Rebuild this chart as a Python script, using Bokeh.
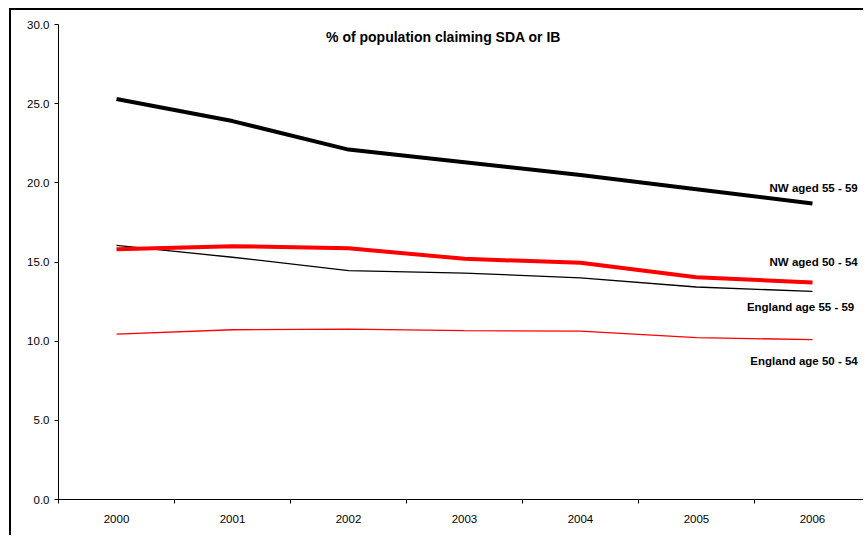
from bokeh.plotting import figure
from bokeh.models import FixedTicker, Range1d
from bokeh.core.properties import value
from bokeh.embed import file_html
from bokeh.resources import INLINE

# ---- data ----
years = ["2000", "2001", "2002", "2003", "2004", "2005", "2006"]
nw_55_59 = [25.3, 23.9, 22.1, 21.3, 20.5, 19.6, 18.7]
nw_50_54 = [15.8, 16.0, 15.87, 15.2, 14.95, 14.04, 13.7]
eng_55_59 = [16.05, 15.3, 14.46, 14.3, 14.0, 13.42, 13.14]
eng_50_54 = [10.45, 10.72, 10.76, 10.67, 10.63, 10.22, 10.1]
y_ticks = [0, 5, 10, 15, 20, 25, 30]
series_names = ["NW aged 55 - 59", "NW aged 50 - 54", "England age 55 - 59", "England age 50 - 54"]
title_text = "% of population claiming SDA or IB"

FONT = "Liberation Sans"
xs = list(range(len(years)))

p = figure(width=854, height=527, output_backend="svg", toolbar_location=None,
           x_range=Range1d(-0.5, 6.457), y_range=Range1d(0, 30),
           min_border_left=47, min_border_right=0, min_border_top=14, min_border_bottom=38,
           styles={"margin-left": "9px", "margin-top": "8px",
                   "border-left": "2px solid black", "border-top": "2px solid black"})
p.outline_line_color = None
p.xgrid.visible = False
p.ygrid.visible = False
p.background_fill_color = "white"
p.border_fill_color = "white"

# x axis: labels at centres, tick marks at category boundaries
p.xaxis.ticker = FixedTicker(ticks=xs, minor_ticks=[i - 0.5 for i in range(len(years) + 1)])
p.xaxis.major_label_overrides = {i: y for i, y in enumerate(years)}
p.xaxis.major_tick_line_color = None
p.xaxis.major_tick_out = 0
p.xaxis.major_tick_in = 0
p.xaxis.minor_tick_line_color = "black"
p.xaxis.minor_tick_out = 4
p.xaxis.minor_tick_in = 0
p.xaxis.major_label_standoff = 11
p.xaxis.axis_line_color = "black"
p.xaxis.major_label_text_font = FONT
p.xaxis.major_label_text_font_size = "11.5px"
p.xaxis.major_label_text_color = "black"

# y axis
p.yaxis.ticker = FixedTicker(ticks=y_ticks, minor_ticks=[])
p.yaxis.major_label_overrides = {t: f"{t:.1f}" for t in y_ticks}
p.yaxis.major_tick_out = 4
p.yaxis.major_tick_in = 0
p.yaxis.major_tick_line_color = "black"
p.yaxis.axis_line_color = "black"
p.yaxis.major_label_standoff = 5
p.yaxis.major_label_text_font = FONT
p.yaxis.major_label_text_font_size = "11.5px"
p.yaxis.major_label_text_color = "black"

# lines
p.line(xs, eng_50_54, line_color="#ff0000", line_width=1.3)
p.line(xs, eng_55_59, line_color="black", line_width=1.3)
p.line(xs, nw_50_54, line_color="#ff0000", line_width=4)
p.line(xs, nw_55_59, line_color="black", line_width=4)

# title inside plot
p.text(x=[2.819], y=[29.24], text=[title_text], text_font=value(FONT),
       text_font_size="14px", text_font_style="bold", text_align="center",
       text_baseline="middle", text_color="black")

# series labels (right-aligned so they stay inside the frame)
lab_x = [6.39, 6.39, 6.36, 6.39]
lab_y = [19.69, 15.01, 12.18, 8.72]
p.text(x=lab_x, y=lab_y, text=series_names, text_font=value(FONT),
       text_font_size="11.5px", text_font_style="bold", text_align="right",
       text_baseline="middle", text_color="black")

open("out.html", "w").write(file_html(p, INLINE))
